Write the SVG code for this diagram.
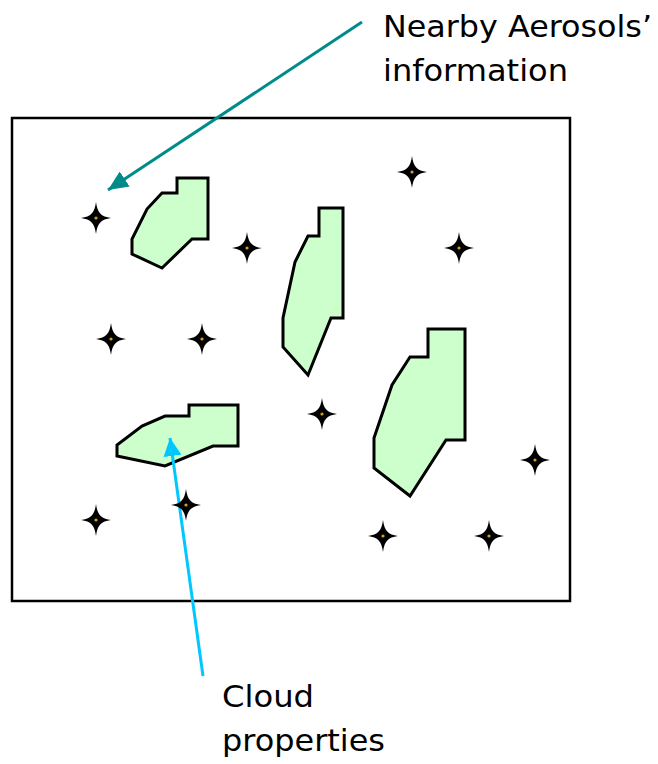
<svg xmlns="http://www.w3.org/2000/svg" width="658" height="764" viewBox="0 0 658 764">
  <style>
    .label { font-family: "DejaVu Sans", Tahoma, Verdana, sans-serif; font-size: 30px; fill: #000; }
    .cloud { fill: #ccffcc; stroke: #000; stroke-width: 3; stroke-linejoin: miter; }
    .frame { fill: none; stroke: #000; stroke-width: 2.5; }
    .star { fill: #000; }
    .core { fill: #d4a017; }
  </style>
  <defs>
    <marker id="headTeal" markerUnits="userSpaceOnUse" markerWidth="22" markerHeight="18" refX="20" refY="9" orient="auto">
      <path d="M0,0 L20,9 L0,18 Z" fill="#008b8b"/>
    </marker>
    <marker id="headCyan" markerUnits="userSpaceOnUse" markerWidth="20" markerHeight="18" refX="18" refY="9" orient="auto">
      <path d="M0,0 L18,9 L0,18 Z" fill="#00c8ff"/>
    </marker>
    <g id="spark">
      <path class="star" d="M0,-16 C1.5,-5 5,-1.5 15,0 C5,1.5 1.5,5 0,16 C-1.5,5 -5,1.5 -15,0 C-5,-1.5 -1.5,-5 0,-16 Z"/>
      <circle class="core" r="1.6"/>
    </g>
  </defs>

  <!-- field of view -->
  <rect id="frame" class="frame" x="12" y="118" width="558" height="483"/>

  <!-- clouds -->
  <g id="cloud-1">
    <polygon class="cloud" points="177,178 208,178 208,239 192,239 162,268 132,254 132,239 147,209 162,193 177,193"/>
  </g>
  <g id="cloud-2">
    <polygon class="cloud" points="319,208 343,208 343,318 331,318 308,375 283,347 283,318 295,262 308,236 319,236"/>
  </g>
  <g id="cloud-3">
    <polygon class="cloud" points="428,329 465,329 465,440 446,440 410,496 374,468 374,438 392,385 410,357 428,357"/>
  </g>
  <g id="cloud-4">
    <polygon class="cloud" points="189,405 238,405 238,446 213,446 165,466 117,456 117,445 142,426 165,416 189,416"/>
  </g>

  <!-- aerosol particles -->
  <g id="aerosols">
    <use href="#spark" x="96" y="218"/>
    <use href="#spark" x="247" y="248"/>
    <use href="#spark" x="412" y="172"/>
    <use href="#spark" x="459" y="248"/>
    <use href="#spark" x="111" y="339"/>
    <use href="#spark" x="202" y="339"/>
    <use href="#spark" x="322" y="414"/>
    <use href="#spark" x="535" y="460"/>
    <use href="#spark" x="96" y="520"/>
    <use href="#spark" x="383" y="536"/>
    <use href="#spark" x="489" y="536"/>
  </g>

  <!-- connectors -->
  <g id="connectors" fill="none" stroke-width="3">
    <line x1="362" y1="22" x2="108" y2="190" stroke="#008b8b" marker-end="url(#headTeal)"/>
    <line x1="203" y1="676" x2="170" y2="438" stroke="#00c8ff" marker-end="url(#headCyan)"/>
  </g>

  <!-- particle drawn over the cyan connector -->
  <g id="aerosol-over">
    <use href="#spark" x="186" y="505"/>
  </g>

  <!-- labels -->
  <g id="label-aerosols">
    <text class="label" x="383" y="37" textLength="269" lengthAdjust="spacingAndGlyphs">Nearby Aerosols’</text>
    <text class="label" x="383" y="81" textLength="185" lengthAdjust="spacingAndGlyphs">information</text>
  </g>
  <g id="label-cloud">
    <text class="label" x="222" y="707" textLength="92" lengthAdjust="spacingAndGlyphs">Cloud</text>
    <text class="label" x="222" y="751" textLength="163" lengthAdjust="spacingAndGlyphs">properties</text>
  </g>
</svg>
